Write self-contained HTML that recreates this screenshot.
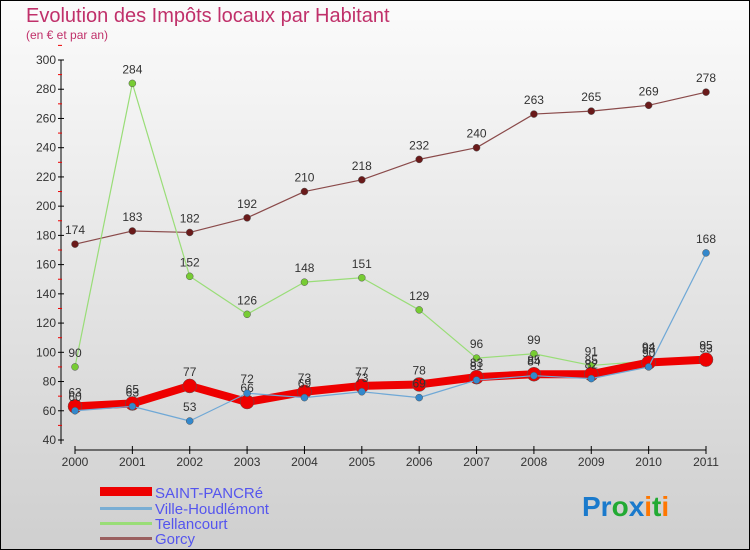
<!DOCTYPE html>
<html><head><meta charset="utf-8">
<style>
body{margin:0;}
#wrap{width:750px;height:550px;position:relative;overflow:hidden;font-family:"Liberation Sans",sans-serif;}
</style></head>
<body>
<div id="wrap">
<svg id="chart" width="750" height="550" xmlns="http://www.w3.org/2000/svg">
<defs>
<linearGradient id="bg" x1="0" y1="0" x2="0" y2="1">
<stop offset="0" stop-color="#fbfbfb"/><stop offset="1" stop-color="#cfcfcf"/>
</linearGradient>
</defs>
<rect x="0.5" y="0.5" width="749" height="549" fill="url(#bg)" stroke="#000"/>
<text x="26" y="22" font-size="20" fill="#c0306a">Evolution des Impôts locaux par Habitant</text>
<text x="26" y="39" font-size="12" fill="#c0306a">(en € et par an)</text>
<g id="axes"></g>
<g id="series"></g>
<g id="legend">
<rect x="100" y="487" width="52" height="9" fill="#e00"/>
<text x="155" y="498" font-size="15" fill="#5555ee">SAINT-PANCRé</text>
<rect x="100" y="507" width="52" height="3" fill="#7aaed4"/>
<text x="155" y="514" font-size="15" fill="#5555ee">Ville-Houdlémont</text>
<rect x="100" y="522" width="52" height="3" fill="#99dd77"/>
<text x="155" y="529" font-size="15" fill="#5555ee">Tellancourt</text>
<rect x="100" y="537" width="52" height="3" fill="#9a6060"/>
<text x="155" y="544" font-size="15" fill="#5555ee">Gorcy</text>
</g>
<g font-size="28" font-weight="bold">
<text x="582" y="516"><tspan fill="#1a7acc">Pr</tspan><tspan fill="#22aa33">o</tspan><tspan fill="#1a7acc">x</tspan><tspan fill="#ff7700">i</tspan><tspan fill="#22aa33">t</tspan><tspan fill="#ff7700">i</tspan></text>
</g>
</svg>
</div>
<script>
const years=[2000,2001,2002,2003,2004,2005,2006,2007,2008,2009,2010,2011];
const yTicks=[40,60,80,100,120,140,160,180,200,220,240,260,280,300];
const saintPancre=[63,65,77,66,73,77,78,83,85,85,93,95];
const villeHoudlemont=[60,63,53,72,69,73,69,81,84,82,90,168];
const tellancourt=[90,284,152,126,148,151,129,96,99,91,94,93];
const gorcy=[174,183,182,192,210,218,232,240,263,265,269,278];

const NS="http://www.w3.org/2000/svg";
const x0=75,x1=706,yTop=60,yBot=440,vMin=40,vMax=300;
function xs(i){return x0+(x1-x0)*i/(years.length-1);}
function ys(v){return yBot-(v-vMin)/(vMax-vMin)*(yBot-yTop);}
function mk(tag,attrs,parent){const e=document.createElementNS(NS,tag);for(const k in attrs)e.setAttribute(k,attrs[k]);parent.appendChild(e);return e;}
const axes=document.getElementById('axes');
const ser=document.getElementById('series');
let yl=mk('line',{x1:61,y1:yTop,x2:61,y2:yBot+4,stroke:'#000'},axes);


yTicks.forEach(v=>{
  const t=mk('line',{x1:58,x2:64,y1:ys(v),y2:ys(v),stroke:'#000'},axes);
  
  
  const m=mk('line',{x1:58,x2:62,y1:ys(v+10),y2:ys(v+10),stroke:'#e00'},axes);
  
  
  const l=mk('text',{x:56,y:ys(v)+4,'font-size':12,'text-anchor':'end',fill:'#333'},axes);
  l.textContent=v;
  
  
});
let xl=mk('line',{x1:x0,y1:450,x2:x1,y2:450,stroke:'#000'},axes);


years.forEach((yr,i)=>{
  const t=mk('line',{x1:xs(i),x2:xs(i),y1:446,y2:454,stroke:'#000'},axes);
  
  
  const l=mk('text',{x:xs(i),y:466,'font-size':12,'text-anchor':'middle',fill:'#333'},axes);
  l.textContent=yr;
  
  
});
function drawSeries(vals,name,color,width,r,dot){
  const pts=vals.map((v,i)=>xs(i)+','+ys(v)).join(' ');
  const pl=mk('polyline',{points:pts,fill:'none',stroke:color,'stroke-width':width,'stroke-linejoin':'round'},ser);
  
  
  vals.forEach((v,i)=>{
    const c=mk('circle',{cx:xs(i),cy:ys(v),r:r,fill:dot,stroke:'#555','stroke-width':0.5},ser);
    
    
    const l=mk('text',{x:xs(i),y:ys(v)-10,'font-size':12,'text-anchor':'middle',fill:'#333'},ser);
    l.textContent=v;
    
    
  });
}
drawSeries(gorcy,'gorcy','#8a4a4a',1.2,3.5,'#6a1a1a');
drawSeries(tellancourt,'tellancourt','#99dd77',1.2,3.5,'#77cc33');
drawSeries(saintPancre,'saint-pancre','#ee0000',8,7,'#ee0000');
drawSeries(villeHoudlemont,'ville-houdlemont','#6fa8d6',1.2,3.5,'#3388cc');
</script>
</body></html>
